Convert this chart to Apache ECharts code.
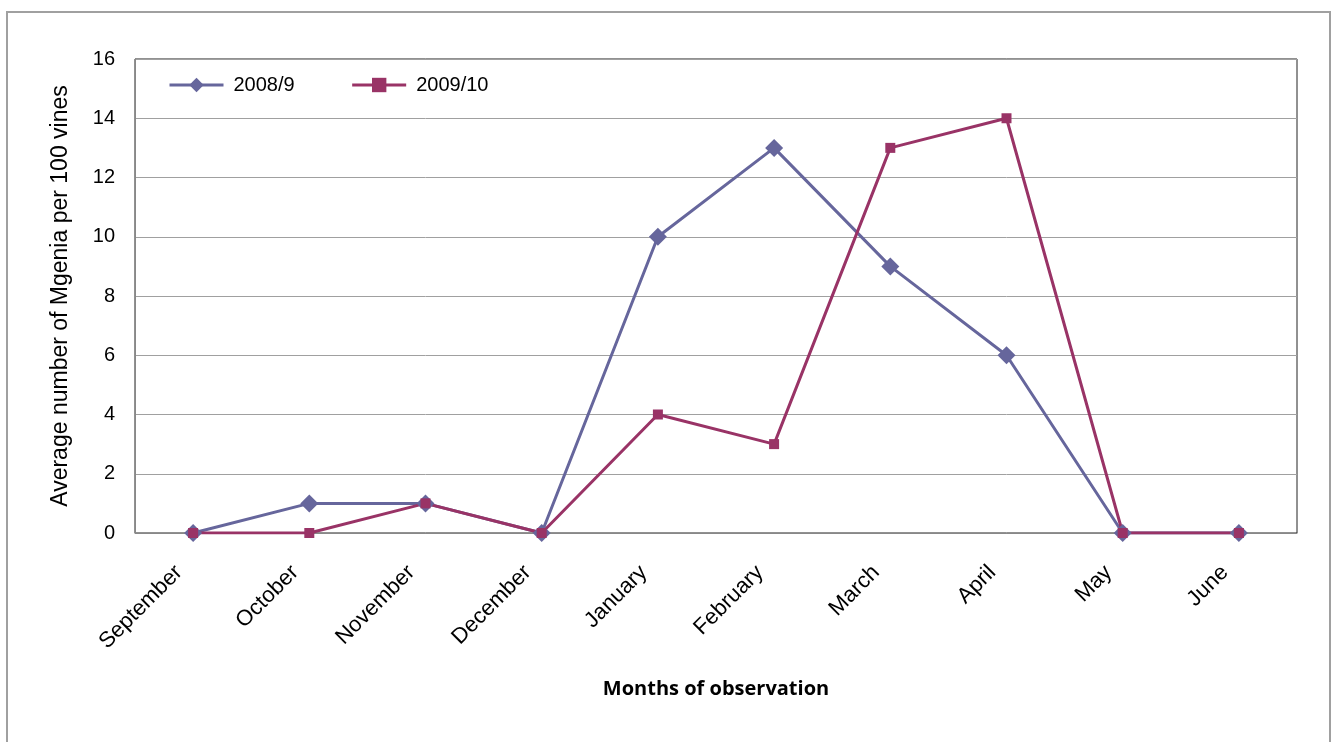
<!DOCTYPE html>
<html>
<head>
    <meta charset="utf-8">
    <title>Mgenia</title>
    <script src="https://cdn.jsdelivr.net/npm/echarts@6/dist/echarts.min.js"></script>
    <style>
        * {
            margin: 0;
            padding: 0
        }

        html, body {
            width: 100%;
            height: 100%;
            background: #fff;
        }

        #main {
            width: 1334px;
            height: 742px;
        }
    </style>
</head>
<body>
<div id="main"></div>
</body>

<script type="text/javascript">
    // data
    var months = ['September', 'October', 'November', 'December', 'January',
        'February', 'March', 'April', 'May', 'June'];
    var s2008 = [0, 1, 1, 0, 10, 13, 9, 6, 0, 0];
    var s2009 = [0, 0, 1, 0, 4, 3, 13, 14, 0, 0];

    var myChart = echarts.init(document.getElementById('main'));
    myChart.setOption({
        animation: false,
        textStyle: {fontFamily: 'Liberation Sans'},
        graphic: [{
            type: 'rect',
            shape: {x: 7, y: 12, width: 1323, height: 800},
            style: {fill: 'none', stroke: '#a0a0a0', lineWidth: 2},
            silent: true
        }],
        grid: {
            left: 135, top: 59, right: 37, bottom: 209,
            show: true, borderColor: '#222', borderWidth: 1
        },
        legend: {
            left: 163, top: 70,
            itemWidth: 54, itemHeight: 18, itemGap: 56,
            lineStyle: {width: 3},
            textStyle: {fontSize: 20, color: '#000', padding: [0, 0, 0, 5]},
            data: ['2008/9', '2009/10']
        },
        xAxis: {
            type: 'category',
            data: months,
            name: 'Months of observation',
            nameLocation: 'middle',
            nameGap: 146,
            nameTextStyle: {fontFamily: 'Open Sans', fontWeight: 'bold', fontSize: 20, color: '#000'},
            axisLine: {lineStyle: {color: '#888'}},
            axisTick: {show: false},
            // padding shifts the rotated text back along its baseline
            axisLabel: {rotate: 45, fontSize: 22, color: '#000', margin: 22, padding: [0, 20, 0, 0]}
        },
        yAxis: {
            type: 'value',
            min: 0, max: 16, interval: 2,
            name: 'Average number of Mgenia per 100 vines',
            nameLocation: 'middle',
            nameRotate: 90,
            nameGap: 63,
            nameTextStyle: {fontSize: 23, color: '#000'},
            axisLine: {show: true, lineStyle: {color: '#888'}},
            axisTick: {show: false},
            axisLabel: {fontSize: 20, color: '#000', margin: 20},
            splitLine: {lineStyle: {color: '#a0a0a0'}}
        },
        series: [
            {
                name: '2008/9', type: 'line', data: s2008,
                symbol: 'diamond', symbolSize: 18,
                itemStyle: {color: '#66669c'},
                lineStyle: {width: 3, color: '#66669c'}
            },
            {
                name: '2009/10', type: 'line', data: s2009,
                symbol: 'rect', symbolSize: 10,
                itemStyle: {color: '#993366'},
                lineStyle: {width: 3, color: '#993366'}
            }
        ]
    });
</script>
</html>
